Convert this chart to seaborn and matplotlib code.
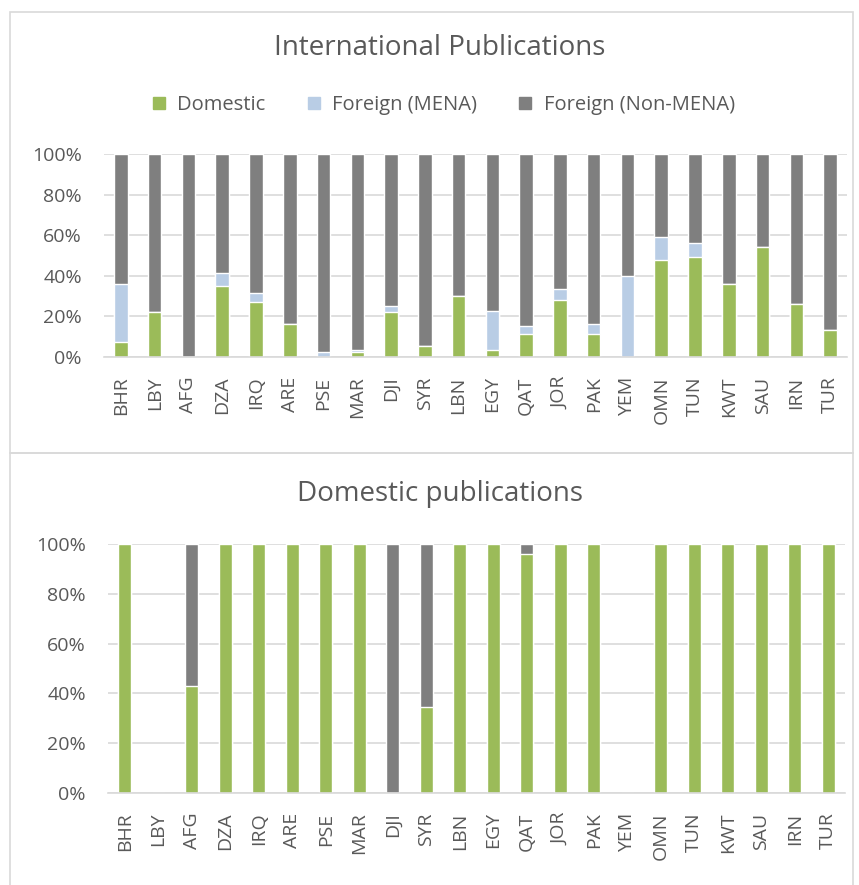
import matplotlib
matplotlib.use("Agg")
import matplotlib.pyplot as plt
from matplotlib.patches import Rectangle
from matplotlib.lines import Line2D
import numpy as np
import pandas as pd
import seaborn as sns

GREEN = "#9BBB59"
BLUE = "#B9CDE5"
GRAY = "#7F7F7F"
TEXT = "#595959"
GRID = "#D9D9D9"

countries = ["BHR", "LBY", "AFG", "DZA", "IRQ", "ARE", "PSE", "MAR", "DJI", "SYR", "LBN",
             "EGY", "QAT", "JOR", "PAK", "YEM", "OMN", "TUN", "KWT", "SAU", "IRN", "TUR"]

# international publications, share (%) by co-author origin
intl_domestic = [7.4, 22.0, 0.0, 35.0, 27.3, 16.3, 0.0, 2.3, 22.0, 5.3, 30.1,
                 3.3, 11.2, 28.1, 11.2, 0.0, 48.0, 49.3, 36.2, 54.0, 26.3, 13.5]
intl_foreign_mena = [28.5, 0.0, 0.0, 6.2, 4.1, 0.0, 2.6, 1.3, 3.2, 0.0, 0.0,
                     19.4, 4.3, 5.6, 5.1, 40.1, 11.0, 7.1, 0.0, 0.0, 0.0, 0.0]
intl_foreign_nonmena = [100 - a - b for a, b in zip(intl_domestic, intl_foreign_mena)]

# domestic publications (LBY and YEM have none)
dom_domestic = [100, 0, 42.9, 100, 100, 100, 100, 100, 0, 34.4, 100,
                100, 96.0, 100, 100, 0, 100, 100, 100, 100, 100, 100]
dom_foreign_nonmena = [0, 0, 57.1, 0, 0, 0, 0, 0, 100, 65.6, 0,
                       0, 4.0, 0, 0, 0, 0, 0, 0, 0, 0, 0]

sns.set_theme(style="white")
plt.rcParams["font.family"] = ["Open Sans", "DejaVu Sans"]
plt.rcParams["text.color"] = TEXT

df_int = pd.DataFrame({"country": countries, "dom": intl_domestic,
                       "mena": intl_foreign_mena, "non": intl_foreign_nonmena})
df_int["c_mena"] = df_int["dom"] + df_int["mena"]
df_int["c_non"] = df_int["c_mena"] + df_int["non"]

df_dom = pd.DataFrame({"country": countries, "dom": dom_domestic, "non": dom_foreign_nonmena})
df_dom["c_non"] = df_dom["dom"] + df_dom["non"]

f = plt.figure(figsize=(8.59, 8.85), dpi=100)

# panel frames
for y0, h in [(12, 441), (453, 440)]:
    f.patches.append(Rectangle((10 / 859, 1 - (y0 + h) / 885), 843 / 859, h / 885,
                               transform=f.transFigure, fill=False,
                               edgecolor=GRID, linewidth=1.2))

ax1 = f.add_axes([104 / 859, 1 - 357 / 885, 743 / 859, 203 / 885])
ax2 = f.add_axes([108 / 859, 1 - 793 / 885, 737 / 859, 249 / 885])


def style_axis(ax):
    ax.set_ylim(0, 100)
    ax.set_xlim(-0.5, len(countries) - 0.5)
    ax.set_yticks(range(0, 101, 20))
    ax.set_yticklabels(["%d%%" % v for v in range(0, 101, 20)], fontsize=14, color=TEXT)
    ax.tick_params(axis="x", labelrotation=90, labelsize=14, labelcolor=TEXT, pad=8)
    ax.tick_params(axis="y", pad=10)
    ax.yaxis.grid(True, color=GRID, linewidth=1.2)
    ax.set_axisbelow(True)
    for s in ["top", "right", "left"]:
        ax.spines[s].set_visible(False)
    ax.spines["bottom"].set_color(GRID)
    ax.spines["bottom"].set_linewidth(1.2)
    ax.set_xlabel("")
    ax.set_ylabel("")


# International publications (stacked via cumulative bars)
sns.barplot(data=df_int, x="country", y="c_non", order=countries, color=GRAY,
            width=0.4, saturation=1, ax=ax1)
sns.barplot(data=df_int, x="country", y="c_mena", order=countries, color=BLUE,
            width=0.4, saturation=1, ax=ax1)
sns.barplot(data=df_int, x="country", y="dom", order=countries, color=GREEN,
            width=0.4, saturation=1, ax=ax1)
style_axis(ax1)

# Domestic publications
sns.barplot(data=df_dom, x="country", y="c_non", order=countries, color=GRAY,
            width=0.4, saturation=1, ax=ax2)
sns.barplot(data=df_dom, x="country", y="dom", order=countries, color=GREEN,
            width=0.4, saturation=1, ax=ax2)
style_axis(ax2)

f.text(440 / 859, 1 - 48 / 885, "International Publications", ha="center", va="center",
       fontsize=20, color=TEXT)
f.text(440 / 859, 1 - 494 / 885, "Domestic publications", ha="center", va="center",
       fontsize=20, color=TEXT)

handles = [Line2D([], [], marker="s", linestyle="", markersize=9, color=c)
           for c in [GREEN, BLUE, GRAY]]
f.legend(handles, ["Domestic", "Foreign (MENA)", "Foreign (Non-MENA)"],
         loc="center", bbox_to_anchor=(443 / 859, 1 - 105 / 885), ncol=3,
         frameon=False, fontsize=14.5, handlelength=0.8, handletextpad=0.5,
         columnspacing=2.0, labelcolor=TEXT)

f.savefig("out.png", dpi=100)
